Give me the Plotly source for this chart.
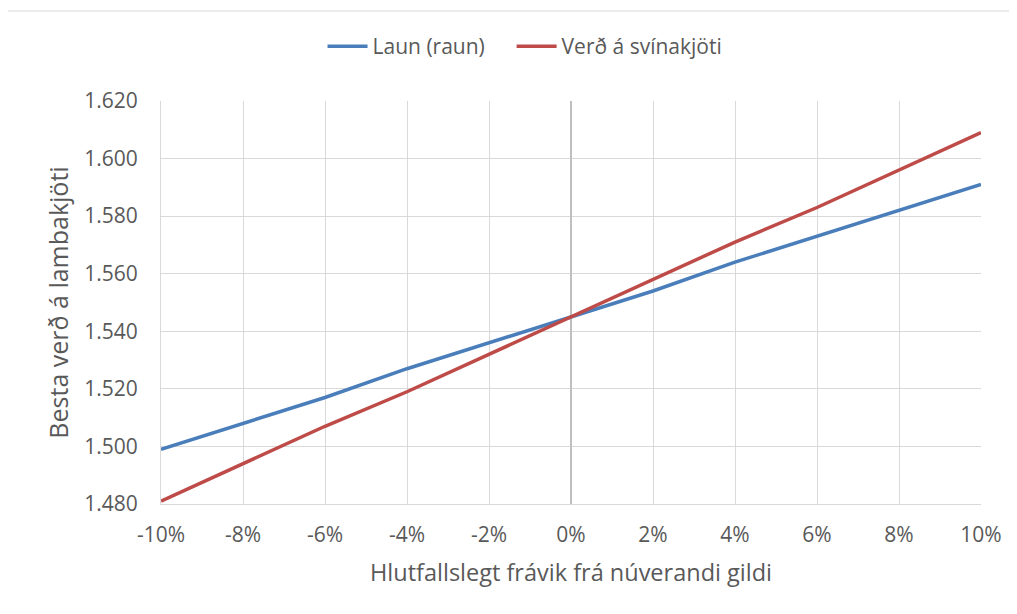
import plotly.graph_objects as go

x_pct = [-10, -8, -6, -4, -2, 0, 2, 4, 6, 8, 10]
x_labels = ["-10%", "-8%", "-6%", "-4%", "-2%", "0%", "2%", "4%", "6%", "8%", "10%"]
laun = [1499, 1508, 1517, 1527, 1536, 1545, 1554, 1564, 1573, 1582, 1591]
svin = [1481, 1494, 1507, 1519, 1532, 1545, 1558, 1571, 1583, 1596, 1609]

FONT = "Open Sans"
TXT = "#595959"
PAD = "\u00a0" * 4

fig = go.Figure()
fig.add_trace(go.Scatter(x=x_pct, y=laun, mode="lines", name="Laun (raun)" + PAD,
                         line=dict(color="#4A7EBB", width=3.5)))
fig.add_trace(go.Scatter(x=x_pct, y=svin, mode="lines", name="Verð á svínakjöti",
                         line=dict(color="#BE4B48", width=3.5)))

fig.update_layout(
    width=1017, height=614,
    margin=dict(l=153, r=44, t=93, b=118),
    paper_bgcolor="white", plot_bgcolor="white",
    separators=",.",
    font=dict(family=FONT, color=TXT, size=21),
    legend=dict(orientation="h", x=0.197, xanchor="left", y=1.135, yanchor="middle",
                font=dict(size=21, color=TXT), itemwidth=40),
    xaxis=dict(range=[-10, 10], tickvals=x_pct, ticktext=x_labels,
               showgrid=True, gridcolor="#d9d9d9", gridwidth=1,
               zeroline=True, zerolinecolor="#bfbfbf", zerolinewidth=1.5,
               showline=True, linecolor="#d9d9d9", mirror=False,
               ticks="", ticklabelstandoff=12,
               tickfont=dict(size=21),
               title=dict(text="Hlutfallslegt frávik frá núverandi gildi",
                          font=dict(size=23.5, color=TXT), standoff=17)),
    yaxis=dict(range=[1480, 1620], dtick=20, tickformat=",d",
               showgrid=True, gridcolor="#d9d9d9", gridwidth=1,
               zeroline=False, showline=True, linecolor="#d9d9d9",
               ticks="", ticklabelstandoff=18,
               tickfont=dict(size=21),
               title=dict(text="Besta verð á lambakjöti",
                          font=dict(size=25, color=TXT), standoff=8)),
    shapes=[dict(type="rect", xref="paper", yref="paper",
                 x0=-0.1902, x1=1.06, y0=-0.3, y1=1.2233,
                 line=dict(color="#d9d9d9", width=1), layer="below")],
)

fig.write_html("out.html")
